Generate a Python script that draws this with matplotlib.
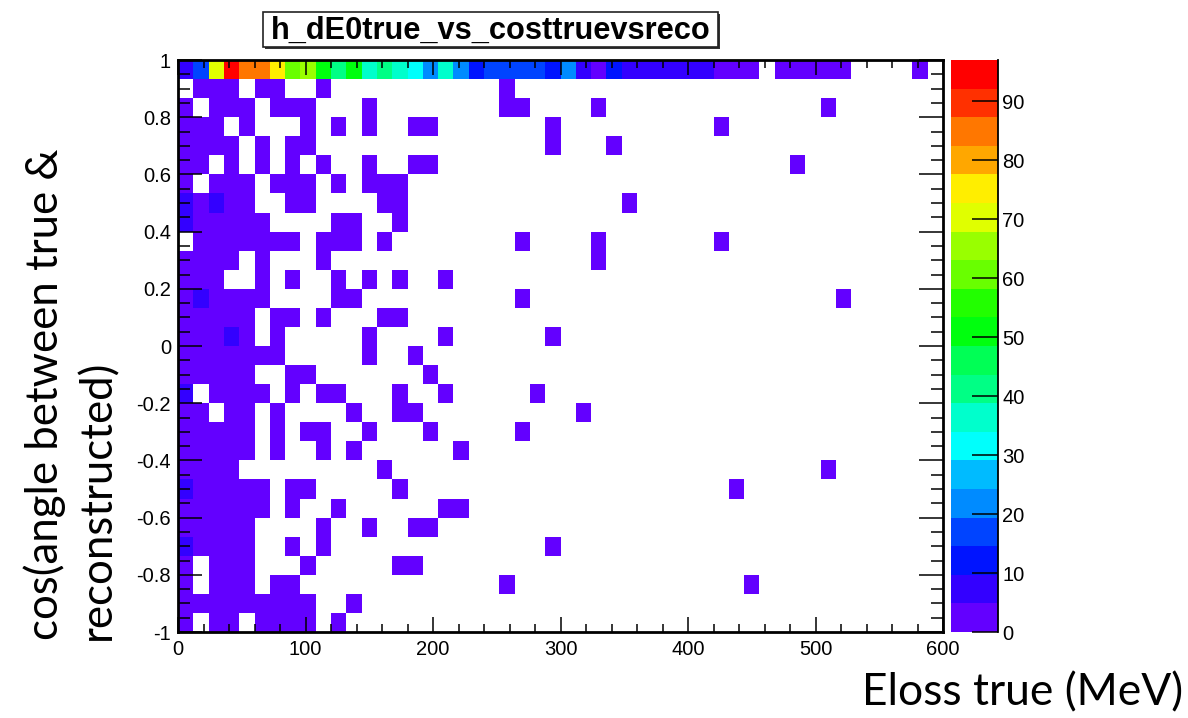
import colorsys
import numpy as np
import matplotlib
matplotlib.use("Agg")
import matplotlib.pyplot as plt
from matplotlib.colors import ListedColormap, BoundaryNorm
from matplotlib.ticker import MultipleLocator, FuncFormatter, FixedLocator
from matplotlib.patches import Rectangle

# ---------------- data ----------------
title = "h_dE0true_vs_costtruevsreco"
x_label = "Eloss true (MeV)"
y_label_lines = ["cos(angle between true &", "reconstructed)"]

n_xbins, x_min, x_max = 50, 0.0, 600.0
n_ybins, y_min, y_max = 30, -1.0, 1.0

# counts of the top cos bin (0.933 .. 1.0), one entry per Eloss bin
top_row_counts = [7, 17, 70, 97, 85, 85, 75, 61, 66, 51,
                  41, 51, 36, 41, 36, 32, 22, 36, 22, 12,
                  17, 17, 17, 17, 12, 22, 7, 2, 12, 7,
                  7, 7, 7, 7, 7, 2, 2, 2, 0, 2,
                  2, 2, 2, 2, 0, 0, 0, 0, 2, 0]

# remaining cos bins, from top (0.867..0.933) to bottom (-1..-0.933);
# each digit is the count of one Eloss bin (groups of 10 bins)
grid_rows = [
    "0222022002 0000000000 0200000000 0000000000 0000000000",
    "2022202220 0020000000 0220000200 0000000000 0020000000",
    "2220200020 2020022000 0000200000 0000020000 0000000000",
    "2222020220 0000000000 0000200020 0000000000 0000000000",
    "2202020202 0020022000 0000000000 0000000000 2000000000",
    "2022202220 2022200000 0000000000 0000000000 0000000000",
    "7272200220 0002200000 0000000002 0000000000 0000000000",
    "7222220000 2200200000 0000000000 0000000000 0000000000",
    "0222222202 2202000000 0020000200 0000020000 0000000000",
    "2222020002 0000000000 0000000200 0000000000 0000000000",
    "2220020200 2020200200 0000000000 0000000000 0000000000",
    "2722220000 2200000000 0020000000 0000000000 0002000000",
    "2222202202 0002200000 0000000000 0000000000 0000000000",
    "2227202000 0020000200 0000200000 0000000000 0000000000",
    "2222222000 0020020000 0000000000 0000000000 0000000000",
    "2222200220 0000002000 0000000000 0000000000 0000000000",
    "7022220202 2000200200 0002000000 0000000000 0000000000",
    "2202202000 0200220000 0000002000 0000000000 0000000000",
    "2222202022 0020002000 0020000000 0000000000 0000000000",
    "2222202002 0200000020 0000000000 0000000000 0000000000",
    "2222000000 0002000000 0000000000 0000000000 0020000000",
    "7222220220 0000200000 0000000000 0000002000 0000000000",
    "2222220200 2000000220 0000000000 0000000000 0000000000",
    "2222200002 0020022000 0000000000 0000000000 0000000000",
    "7222200202 0000000000 0000200000 0000000000 0000000000",
    "2022200020 0000220000 0000000000 0000000000 0000000000",
    "2022202200 0000000000 0200000000 0000000200 0000000000",
    "2222222220 0200000000 0000000000 0000000000 0000000000",
    "2022022220 2000000000 0000000000 0000000000 0000000000",
]

x_ticks = [0, 100, 200, 300, 400, 500, 600]
y_ticks = [-1, -0.8, -0.6, -0.4, -0.2, 0, 0.2, 0.4, 0.6, 0.8, 1]
z_ticks = [0, 10, 20, 30, 40, 50, 60, 70, 80, 90]
n_contours = 20

# ---------------- build histogram ----------------
rows = [top_row_counts] + [[int(c) for c in r.replace(" ", "")] for r in grid_rows]
counts_top_down = np.array(rows, dtype=float)
counts = counts_top_down[::-1]          # index 0 = lowest cos bin
x_edges = np.linspace(x_min, x_max, n_xbins + 1)
y_edges = np.linspace(y_min, y_max, n_ybins + 1)
z_max = counts.max()

# ROOT "pretty" palette (violet -> red), 20 contour colours
def root_pretty(ndiv):
    out = []
    for k in range(ndiv):
        idx = int((k + 0.99) * 50 / ndiv)
        hue = 0.0 if idx >= 49 else 280.0 - (idx + 1) * 5.6
        out.append(colorsys.hls_to_rgb(hue / 360.0, 0.5, 1.0))
    return out

cmap = ListedColormap(root_pretty(n_contours))
levels = np.linspace(0, z_max, n_contours + 1)
norm = BoundaryNorm(levels, n_contours)

# ---------------- figure ----------------
W, H = 1188, 718
fig = plt.figure(figsize=(W / 100, H / 100), dpi=100)
fig.patch.set_facecolor("white")

def fx(px):
    return px / W

def fy(py):
    return 1 - py / H

L, R, T, B = 178, 943, 60, 632
ax = fig.add_axes([fx(L), fy(B), fx(R - L), fy(T) - fy(B)])
Z = np.ma.masked_less_equal(counts, 0)
mesh = ax.pcolormesh(x_edges, y_edges, Z, cmap=cmap, norm=norm,
                     edgecolors="face", linewidth=0)
ax.set_xlim(x_min, x_max)
ax.set_ylim(y_min, y_max)

tick_font = dict(family="Liberation Sans", size=14.5)
ax.xaxis.set_major_locator(FixedLocator(x_ticks))
ax.xaxis.set_minor_locator(MultipleLocator(20))
ax.yaxis.set_major_locator(FixedLocator(y_ticks))
ax.yaxis.set_minor_locator(MultipleLocator(0.05))

def yfmt(v, p):
    if abs(v) < 1e-9:
        return "0"
    return f"{round(v, 2):g}"

ax.yaxis.set_major_formatter(FuncFormatter(yfmt))
ax.xaxis.set_major_formatter(FuncFormatter(lambda v, p: f"{v:g}"))
ax.tick_params(axis="both", which="both", direction="in", top=True, right=True,
               width=1.1, colors="black")
ax.tick_params(axis="x", which="major", length=11, pad=6)
ax.tick_params(axis="x", which="minor", length=6)
ax.tick_params(axis="y", which="major", length=17, pad=5)
ax.tick_params(axis="y", which="minor", length=8.5)
for lab in ax.get_xticklabels() + ax.get_yticklabels():
    lab.set_fontfamily(tick_font["family"])
    lab.set_fontsize(tick_font["size"])
for sp in ax.spines.values():
    sp.set_linewidth(2.0)
    sp.set_color("black")

# colour bar (palette axis)
cax = fig.add_axes([fx(951), fy(B), fx(998 - 951), fy(T) - fy(B)])
cb = fig.colorbar(mesh, cax=cax, ticks=z_ticks, spacing="proportional")
cb.outline.set_visible(False)
cax.plot([1, 1], [0, 1], transform=cax.transAxes, color="black", lw=1.3,
         clip_on=False)
cax.tick_params(direction="in", length=19, width=1.1, pad=3, right=True,
                left=False)
cax.minorticks_off()
for lab in cax.get_yticklabels():
    lab.set_fontfamily(tick_font["family"])
    lab.set_fontsize(tick_font["size"])

# title box with shadow
bx0, bx1, by0, by1 = 263, 718, 12, 47
fig.patches.append(Rectangle((fx(bx0 + 2), fy(by1 + 2)), fx(bx1 - bx0), fy(by0) - fy(by1),
                             transform=fig.transFigure, facecolor="#333333",
                             edgecolor="none", zorder=5))
fig.patches.append(Rectangle((fx(bx0), fy(by1)), fx(bx1 - bx0), fy(by0) - fy(by1),
                             transform=fig.transFigure, facecolor="white",
                             edgecolor="#222222", linewidth=1.2, zorder=6))
t_title = fig.text(fx((bx0 + bx1) / 2), fy((by0 + by1) / 2 + 1), title,
                   ha="center", va="center", family="Liberation Sans",
                   weight="bold", size=22, zorder=7)

# axis labels (slide text)
label_font = ["Lato", "DejaVu Sans"]
t_x = fig.text(fx(1183), fy(705), x_label, ha="right", va="baseline",
               family=label_font, size=30)
t_y1 = fig.text(fx(58), fy(640), y_label_lines[0], rotation=90,
                rotation_mode="anchor", ha="left", va="baseline",
                family=label_font, size=30)
t_y2 = fig.text(fx(110), fy(640), y_label_lines[1], rotation=90,
                rotation_mode="anchor", ha="left", va="baseline",
                family=label_font, size=30)

# fit the label sizes to the measured extents in the reference
fig.canvas.draw()
r = fig.canvas.get_renderer()
def fit(t, target, vertical=False):
    bb = t.get_window_extent(r)
    cur = bb.height if vertical else bb.width
    t.set_fontsize(t.get_fontsize() * target / cur)

fit(t_x, 1183 - 862)
fit(t_y1, 640 - 150, vertical=True)
t_y2.set_fontsize(t_y1.get_fontsize())
fit(t_title, 440)

fig.savefig("out.png", dpi=100, facecolor="white")
